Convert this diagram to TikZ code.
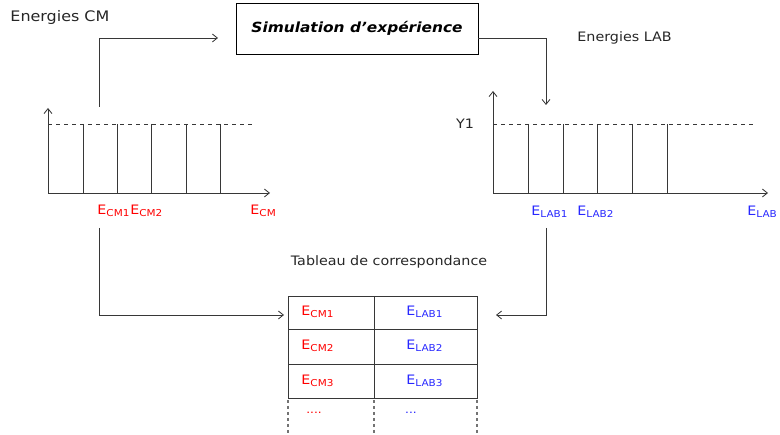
\documentclass[tikz,border=0pt]{standalone}
\usepackage{fontspec}
\setmainfont{DejaVu Sans}[FakeStretch=1.1]
\usetikzlibrary{arrows.meta}
\definecolor{labred}{RGB}{255,0,0}
\definecolor{labblue}{RGB}{40,40,255}
\definecolor{linegray}{RGB}{55,55,55}
\newcommand\Esub[1]{E\raisebox{-0.3ex}{\fontsize{9.5}{10}\selectfont #1}}
\begin{document}
\begin{tikzpicture}[x=1pt,y=-1pt,
  line width=0.85pt, color=linegray,
  txt/.style={font=\fontsize{13}{15}\selectfont, inner sep=0pt, text=black!85},
  lbl/.style={font=\fontsize{13}{15}\selectfont, inner sep=0pt, anchor=west},
  arr/.style={-{Straight Barb[length=5pt,width=8pt]}},
  axis/.style={-{Straight Barb[length=5pt,width=8pt]}},
  dashline/.style={dash pattern=on 4pt off 4pt, line width=0.7pt},
  dotline/.style={dash pattern=on 3pt off 3pt, line width=1.3pt, draw=black!55},
  bar/.style={line width=0.9pt}]
\useasboundingbox (0,0) rectangle (780,435);

% titles
\node[txt, anchor=west, font=\fontsize{14.5}{16}\selectfont] (ecmtitle) at (10,18) {Energies CM};
\node[txt, anchor=west] (elabtitle) at (577,38) {Energies LAB};
\node[draw=black, line width=0.9pt, minimum width=242pt, minimum height=51pt, inner sep=0pt, text=black]
  (sim) at (357,28.5) {\fontsize{14}{17}\selectfont\bfseries\itshape Simulation d'expérience};

% left chart
\coordinate (L0) at (48,193);
\draw[axis] (L0) -- (270,193);
\draw[axis] (L0) -- (48,108);
\draw[dashline] (48,124) -- (255,124);
\foreach \x in {83,117,151,186,220} \draw[bar] (\x,124) -- (\x,193);
\node[lbl, text=labred] (ecm1) at (97,211) {\Esub{CM1}};
\node[lbl, text=labred] (ecm2) at (ecm1.east) {\Esub{CM2}};
\node[lbl, text=labred] (ecm) at (250,211) {\Esub{CM}};

% right chart
\coordinate (R0) at (493,193);
\draw[axis] (R0) -- (768,193);
\draw[axis] (R0) -- (493,91);
\draw[dashline] (493,124) -- (753,124);
\foreach \x in {528,563,597,632,667} \draw[bar] (\x,124) -- (\x,193);
\node[txt] (y1) at (465,124) {Y1};
\node[lbl, text=labblue] (elab1) at (531,212) {\Esub{LAB1}};
\node[lbl, text=labblue] (elab2) at (577,212) {\Esub{LAB2}};
\node[lbl, text=labblue] (elab) at (747,212) {\Esub{LAB}};

% top arrows
\coordinate (a1) at (99,107);
\coordinate (a1e) at (218,38);
\draw[arr] (a1) |- (a1e);
\coordinate (a2e) at (546,105);
\draw[arr] (sim.east |- a1e) -| (a2e);

% table
\node[txt] (ttitle) at (389,262) {Tableau de correspondance};
\draw[line width=0.9pt] (288,296) rectangle (477,398);
\draw[line width=0.9pt] (288,329) -- (477,329);
\draw[line width=0.9pt] (288,364) -- (477,364);
\draw[line width=0.9pt] (374,296) -- (374,398);
\draw[dotline] (288,400) -- (288,435);
\draw[dotline] (374,400) -- (374,435);
\draw[dotline] (477,400) -- (477,435);

\node[lbl, text=labred] (c1) at (301,312) {\Esub{CM1}};
\node[lbl, text=labred] (c2) at (301,346) {\Esub{CM2}};
\node[lbl, text=labred] (c3) at (301,381) {\Esub{CM3}};
\node[lbl, text=labblue] (l1) at (406,312) {\Esub{LAB1}};
\node[lbl, text=labblue] (l2) at (406,346) {\Esub{LAB2}};
\node[lbl, text=labblue] (l3) at (406,381) {\Esub{LAB3}};
\node[inner sep=0pt, text=labred, font=\fontsize{11}{12}\selectfont] (d1) at (314,413) {....};
\node[inner sep=0pt, text=labblue, font=\fontsize{11}{12}\selectfont] (d2) at (411,413) {...};

% bottom arrows
\coordinate (b1) at (99,228);
\coordinate (b1e) at (284,315);
\draw[arr] (b1) |- (b1e);
\coordinate (b2) at (546,228);
\coordinate (b2e) at (496,315);
\draw[arr] (b2) |- (b2e);
\end{tikzpicture}
\end{document}
